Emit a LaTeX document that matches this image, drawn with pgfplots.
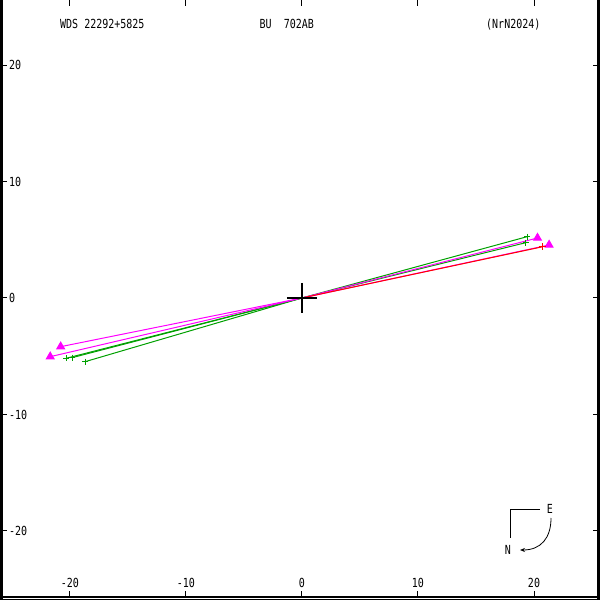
\documentclass[border=0pt]{standalone}
\usepackage{fontspec}
\setmainfont{DejaVu Sans Mono}
\usepackage{graphicx}
\usepackage{pgfplots}
\pgfplotsset{compat=1.18}
\usetikzlibrary{arrows.meta}
\definecolor{wdsgreen}{RGB}{0,160,0}
\definecolor{wdsmag}{RGB}{255,0,255}
\newcommand{\tx}[1]{\scalebox{1}[1.25]{#1}}

\begin{document}
\begin{tikzpicture}[x=1bp,y=1bp]
\useasboundingbox (0,0) rectangle (600,600);
\begin{axis}[
    at={(1.5bp,3bp)}, anchor=south west,
    scale only axis, width=597bp, height=596.5bp,
    xmin=-25.9, xmax=25.56, ymin=-25.67, ymax=25.54,
    axis line style={draw=none},
    clip=false,
    xtick={-20,-10,0,10,20},
    ytick={-20,-10,0,10,20},
    tick style={black, line width=1bp},
    major tick length=5.5bp,
    tick align=inside,
    /pgf/number format/assume math mode=true,
    ticklabel style={font=\fontsize{10bp}{12bp}\selectfont, inner sep=0pt},
    xticklabel={\tx{\pgfmathprintnumber{\tick}}},
    yticklabel={\tx{\pgfmathprintnumber{\tick}}},
    xticklabel style={anchor=south, yshift=9bp},
    yticklabel style={anchor=west, xshift=7.5bp},
]
% green measures
\addplot[wdsgreen, line width=1bp, mark=+, mark size=3bp, mark indices={2}] coordinates {(0,0) (19.4,5.26)};
\addplot[wdsgreen, line width=1bp, mark=+, mark size=3bp, mark indices={2}] coordinates {(0,0) (19.3,4.75)};
\addplot[wdsgreen, line width=1bp, mark=+, mark size=3bp, mark indices={2}] coordinates {(0,0) (-20.34,-5.18)};
\addplot[wdsgreen, line width=1bp, mark=+, mark size=3bp, mark indices={2}] coordinates {(0,0) (-19.8,-5.12)};
\addplot[wdsgreen, line width=1bp, mark=+, mark size=3bp, mark indices={2}] coordinates {(0,0) (-18.7,-5.47)};
% magenta measures
\addplot[wdsmag, line width=1bp, mark=triangle*, mark size=4.5bp, mark indices={2}] coordinates {(0,0) (20.3,5.15)};
\addplot[wdsmag, line width=1bp, mark=triangle*, mark size=4.5bp, mark indices={2}] coordinates {(0,0) (21.3,4.55)};
\addplot[wdsmag, line width=1bp, mark=triangle*, mark size=4.5bp, mark indices={2}] coordinates {(0,0) (-20.8,-4.18)};
\addplot[wdsmag, line width=1bp, mark=triangle*, mark size=4.5bp, mark indices={2}] coordinates {(0,0) (-21.7,-5.04)};
% red measure
\addplot[red, line width=1bp, mark=+, mark size=3.5bp, mark options={line width=1.5bp}, mark indices={2}] coordinates {(0,0) (20.75,4.4)};
% primary
\addplot[black, only marks, mark=+, mark size=15bp, mark options={line width=2bp}] coordinates {(0,0)};
\end{axis}
% frame
\draw[line width=3bp] (1.5,0) -- (1.5,600);
\draw[line width=3bp] (598.5,0) -- (598.5,600);
\draw[line width=2bp] (0,3) -- (600,3);
\draw[line width=1bp] (0,0.5) -- (600,0.5);
% titles
\begin{scope}[every node/.style={inner sep=0pt, font=\fontsize{10bp}{12bp}\selectfont}]
\node[anchor=base west] at (60,571) {\tx{WDS 22292+5825}};
\node[anchor=base west] at (259.5,571) {\tx{BU~~702AB}};
\node[anchor=base west] at (486,571) {\tx{(NrN2024)}};
\node at (550,91) {\tx{E}};
\node at (508,50) {\tx{N}};
\end{scope}
% compass
\draw[line width=1bp] (540,90.7) -- (510.7,90.7) -- (510.7,62);
\draw[line width=0.8bp, -{Stealth[length=5bp,width=4bp]}] (551,82) .. controls (551,62) and (541,50) .. (520,50);
\end{tikzpicture}
\end{document}
